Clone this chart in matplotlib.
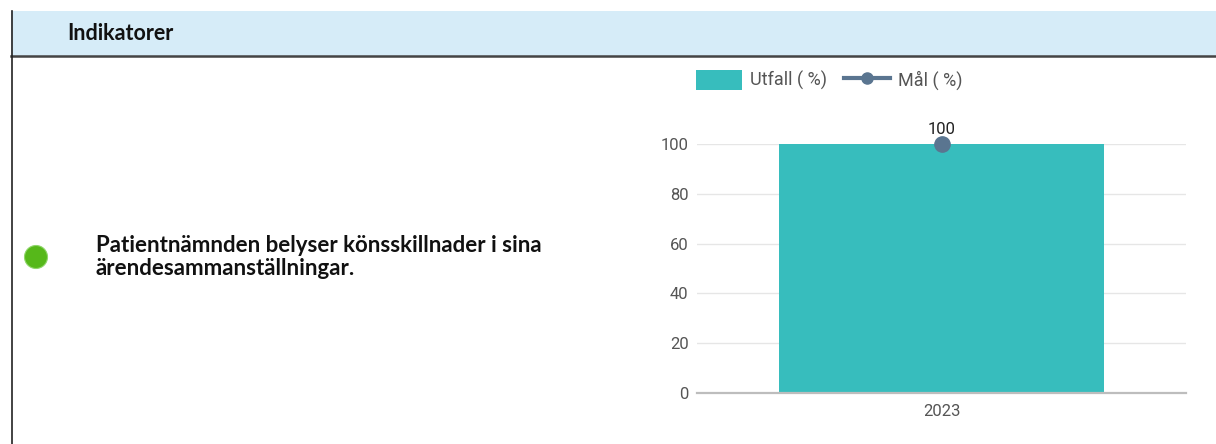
import matplotlib
matplotlib.use("Agg")
import matplotlib.pyplot as plt
from matplotlib.patches import Rectangle, Circle
from matplotlib.lines import Line2D

# data
years = ["2023"]
utfall = [100]
mal = [100]

header_title = "Indikatorer"
indicator_text = "Patientnämnden belyser könsskillnader i sina\närendesammanställningar."

W, H = 1216, 444
fig = plt.figure(figsize=(W / 100, H / 100), dpi=100)

# background layer in pixel coordinates
bg = fig.add_axes([0, 0, 1, 1])
bg.set_xlim(0, W)
bg.set_ylim(H, 0)
bg.axis("off")

bg.add_patch(Rectangle((11, 11), W - 11, 45, facecolor="#D6ECF8", edgecolor="none"))
bg.plot([11, W], [56.5, 56.5], color="#444444", lw=1.8)
bg.plot([11.5, 11.5], [11, H], color="#222222", lw=1.2)
bg.text(67, 34, header_title, fontsize=15.5, fontweight="bold",
        family="Lato", va="center", ha="left", color="#111111")

bg.add_patch(Circle((36, 257), 11.5, facecolor="#56B81A", edgecolor="#8fd66a", lw=0.8))
bg.text(96, 257, indicator_text, fontsize=16, fontweight="bold", family="Lato",
        va="center", ha="left", color="#111111", linespacing=1.15)

# chart
teal = "#37BDBD"
navy = "#5A7590"
ax = fig.add_axes([697 / W, 1 - 393 / H, (1186 - 697) / W, (393 - 144) / H])
x = range(len(years))
ax.bar(x, utfall, width=0.666, color=teal, zorder=2)
ax.plot(x, mal, color=navy, marker="o", markersize=11, lw=2, zorder=3, clip_on=False)
for xi, v in zip(x, mal):
    ax.annotate(str(v), (xi, v), xytext=(0, 5), textcoords="offset points",
                ha="center", va="bottom", fontsize=12, family="Roboto", color="#222222")

ax.set_xlim(-0.5, 0.5)
ax.set_ylim(0, 100)
ax.set_yticks([0, 20, 40, 60, 80, 100])
ax.set_xticks(list(x))
ax.set_xticklabels(years)
ax.grid(axis="y", color="#E6E6E6", lw=1, zorder=0)
for s in ["top", "right", "left"]:
    ax.spines[s].set_visible(False)
ax.spines["bottom"].set_color("#BDBDBD")
ax.spines["bottom"].set_linewidth(1.6)
ax.spines["bottom"].set_zorder(4)
ax.tick_params(axis="both", length=0, labelsize=12, labelcolor="#555555")
ax.tick_params(axis="y", pad=6)
ax.tick_params(axis="x", pad=8)
for lab in ax.get_xticklabels() + ax.get_yticklabels():
    lab.set_family("Roboto")

handles = [Rectangle((0, 0), 1, 1, facecolor=teal, edgecolor="none"),
           Line2D([0], [0], color=navy, lw=3, marker="o", markersize=8)]
leg = fig.legend(handles, ["Utfall ( %)", "Mål ( %)"], loc="center left",
                 bbox_to_anchor=(696 / W, 1 - 80 / H), ncol=2, frameon=False,
                 prop={"family": "Roboto", "size": 13}, handlelength=2.55,
                 handleheight=1.33, handletextpad=0.45, columnspacing=0.95,
                 borderpad=0, borderaxespad=0)
for t in leg.get_texts():
    t.set_color("#555555")

fig.savefig("out.png", dpi=100)
